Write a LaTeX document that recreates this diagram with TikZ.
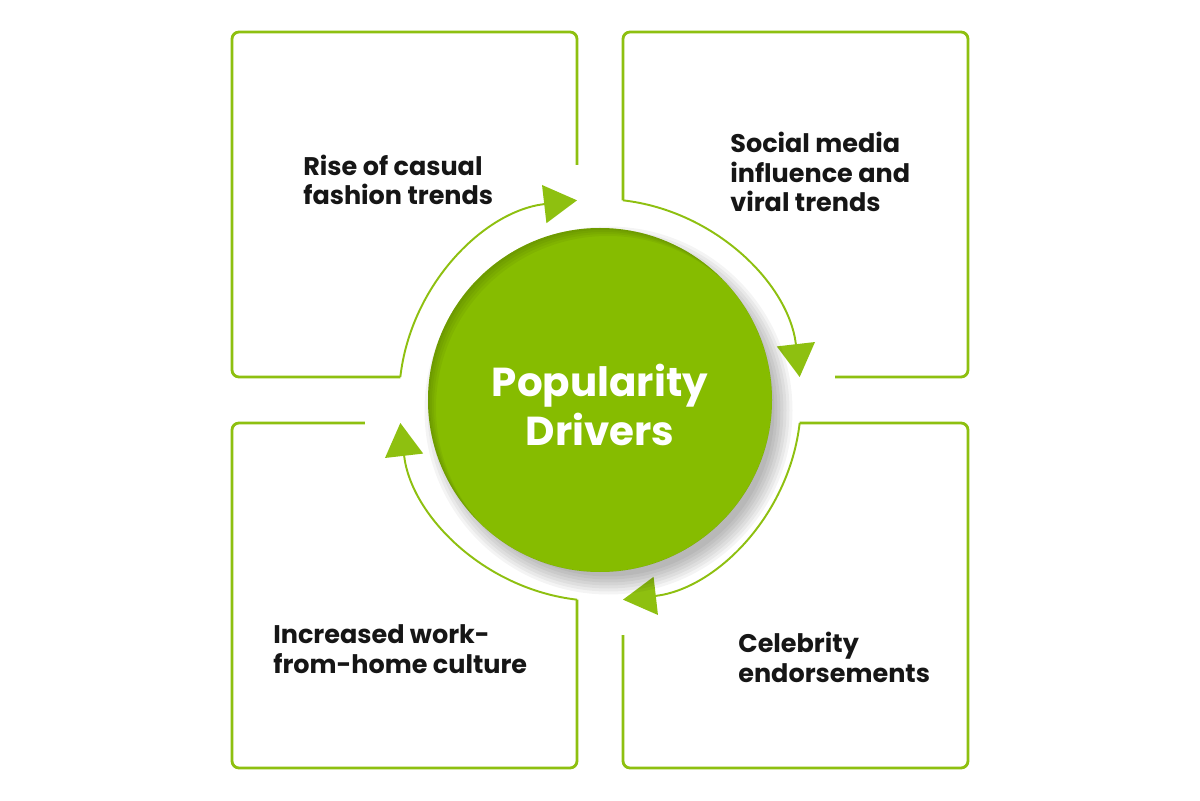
\documentclass[tikz,border=0pt]{standalone}
\usepackage{fontspec}
\setmainfont{Poppins}
\usetikzlibrary{arrows.meta}
\definecolor{limegreen}{RGB}{134,188,0}
\definecolor{framegreen}{RGB}{142,192,16}
\definecolor{inkblack}{RGB}{22,22,22}
\newcommand{\quadframe}[1]{% open panel + quarter arc (drawn top-left, turned by #1)
  \begin{scope}[rotate=#1]
    \draw[panel] (-0.46,4.7) -- (-0.46,7.36) -- (-7.36,7.36) -- (-7.36,0.46) -- (-3.994,0.46);
    \draw[ring] (173.43:4.02) arc[start angle=173.43,end angle=96.57,radius=4.02];
  \end{scope}}

\begin{document}
\begin{tikzpicture}[
      panel/.style={framegreen,line width=1.6pt,rounded corners=4pt},
      ring/.style={framegreen,line width=1.1pt,-{Triangle[length=6.6mm,width=7.6mm]}},
      hubdisc/.style={circle,fill=limegreen,minimum size=6.88cm,inner sep=0pt},
      title/.style={text=white,align=center,inner sep=0pt,
                    font=\bfseries\fontsize{23}{28}\selectfont},
      driver/.style={anchor=base west,inner sep=0pt,align=left,text=inkblack,
                     font=\bfseries\fontsize{14.5}{17}\selectfont}]
    \useasboundingbox[fill=white] (-12,-8) rectangle (12,8);

    % ---- four open panels, each ending in an arrow on the ring ------------
    \quadframe{0}
    \quadframe{-90}
    \quadframe{-180}
    \quadframe{-270}

    % ---- hub with soft shadow -------------------------------------------
    \foreach \r in {-0.12,-0.06,...,0.24}{%
      \fill[black,opacity=0.045] (0.17,-0.21) circle (3.44+\r);}
    \node[hubdisc] (hub) at (0,0) {};
    \begin{scope}
      \clip (hub.center) circle (3.44);
      \foreach \s in {0.04,0.08,0.12,0.16}{%
        \fill[black,opacity=0.045,even odd rule] (hub.center) circle (3.44)
              ([shift={(\s,-\s)}]hub.center) circle (3.44);}
    \end{scope}
    \node[title] (hubtext) at ([yshift=-0.1cm]hub.center) {Popularity\\Drivers};

    % ---- driver labels ---------------------------------------------------
    \node[driver] (casual)    at (-5.94,3.9)   {Rise of casual\\fashion trends};
    \node[driver] (social)    at (2.6,3.76)    {Social media\\influence and\\viral trends};
    \node[driver] (homework)  at (-6.54,-5.46) {Increased work-\\from-home culture};
    \node[driver] (celebrity) at (2.76,-5.64)  {Celebrity\\endorsements};
  \end{tikzpicture}
\end{document}
